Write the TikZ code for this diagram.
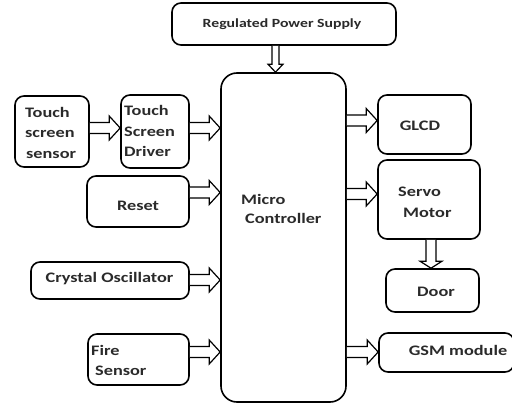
\documentclass[tikz,border=0pt]{standalone}
\usepackage{fontspec}
\setmainfont{Carlito}[FakeStretch=1.26]
\usetikzlibrary{calc}
\definecolor{txt}{HTML}{2A2A2A}
\begin{document}
\begin{tikzpicture}[x=1pt,y=-1pt,
  box/.style={draw=black, line width=1.6pt, rounded corners=9pt, fill=white, inner sep=0pt},
  lbl/.style={text=txt, font=\bfseries\fontsize{14.5}{20.5}\selectfont, inner sep=0pt, align=left},
  harrow/.style n args={3}{draw=black, line width=1.2pt, fill=white,
    to path={let \p1=(\tikztostart), \p2=(\tikztotarget) in
      (\x1,\y1+#1) -- (\x2-#3,\y1+#1) -- (\x2-#3,\y1+#2) -- (\x2,\y1)
      -- (\x2-#3,\y1-#2) -- (\x2-#3,\y1-#1) -- (\x1,\y1-#1)}},
  varrow/.style n args={3}{draw=black, line width=1.2pt, fill=white,
    to path={let \p1=(\tikztostart), \p2=(\tikztotarget) in
      (\x1+#1,\y1) -- (\x1+#1,\y2+#3) -- (\x1+#2,\y2+#3) -- (\x1,\y2)
      -- (\x1-#2,\y2+#3) -- (\x1-#1,\y2+#3) -- (\x1-#1,\y1)}},
  bigarrow/.style={harrow={5.5pt}{12pt}{11pt}}
]
\useasboundingbox (0,0) rectangle (512,404);

% boxes
\node[box, minimum width=224pt, minimum height=42pt] (psu) at (284,24) {};
\node[box, rounded corners=16pt, minimum width=125pt, minimum height=329pt] (mc) at (283.5,237.5) {};
\node[box, minimum width=74pt, minimum height=71pt] (sensor) at (52,131.5) {};
\node[box, minimum width=68pt, minimum height=73pt] (drv) at (155,131.5) {};
\node[box, minimum width=102pt, minimum height=51pt] (reset) at (138,201.5) {};
\node[box, minimum width=158pt, minimum height=37pt] (crystal) at (110,280.5) {};
\node[box, minimum width=101pt, minimum height=51pt] (fire) at (138.5,359.5) {};
\node[box, minimum width=93pt, minimum height=59pt] (glcd) at (424.5,124.5) {};
\node[box, minimum width=102pt, minimum height=79pt] (servo) at (429,199.5) {};
\node[box, minimum width=93pt, minimum height=43pt] (door) at (432.5,290.5) {};
\node[box, minimum width=135pt, minimum height=39pt] (gsm) at (446.5,352.5) {};

% labels (base anchor of a multi-line label = baseline of its last line)
\node[lbl, font=\bfseries\fontsize{12.5}{15}\selectfont, anchor=base] (tpsu) at (282,28) {Regulated Power Supply};
\node[lbl, anchor=base west] (tmc) at (241,223) {Micro\\[-1.5pt]\hspace*{4pt}Controller};
\node[lbl, anchor=base west] (tsensor) at (25,158) {Touch\\screen\\\hspace*{1pt}sensor};
\node[lbl, anchor=base west] (tdrv) at (124,157) {Touch\\Screen\\Driver};
\node[lbl, anchor=base] (treset) at (138,210) {Reset};
\node[lbl, anchor=base] (tcrystal) at (109.5,282) {Crystal Oscillator};
\node[lbl, anchor=base west] (tfire) at (91,375.5) {Fire\\\hspace*{4pt}Sensor};
\node[lbl, anchor=base] (tglcd) at (420,130.5) {GLCD};
\node[lbl, anchor=base west] (tservo) at (398,217) {Servo\\[0.5pt]\hspace*{5pt}Motor};
\node[lbl, anchor=base] (tdoor) at (436,296.5) {Door};
\node[lbl, anchor=base] (tgsm) at (458,355.5) {GSM module};

% arrows
\draw[bigarrow] ([yshift=3.5pt]sensor.east) to (drv.west);
\draw[bigarrow] ([yshift=3.5pt]drv.east) to (mc.west);
\draw[bigarrow] ([yshift=9pt]reset.east) to (mc.west);
\draw[bigarrow] ([yshift=0.5pt]crystal.east) to (mc.west);
\draw[bigarrow] ([yshift=7.5pt]fire.east) to (mc.west);
\draw[bigarrow] ([yshift=4pt]glcd.west -| mc.east) to (glcd.west);
\draw[bigarrow] ([yshift=5.5pt]servo.west -| mc.east) to (servo.west);
\draw[bigarrow] ([yshift=0.5pt]gsm.west -| mc.east) to (gsm.west);
\draw[varrow={3.5pt}{7.5pt}{8pt}] ([xshift=-8.5pt]psu.south) to (mc.north);
\draw[varrow={5pt}{11pt}{7pt}] ([xshift=2pt]servo.south) to (door.north);
\end{tikzpicture}
\end{document}
